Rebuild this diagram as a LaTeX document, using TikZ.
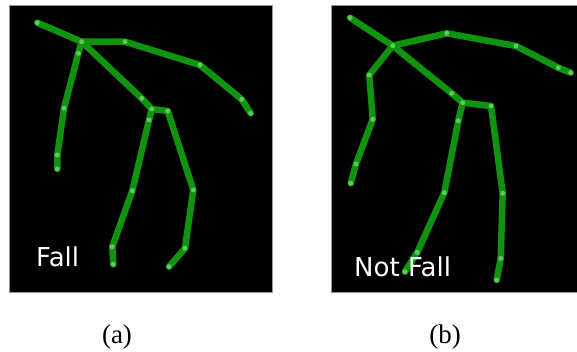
\documentclass[tikz,border=0pt]{standalone}
\usepackage{fontspec}
\newfontfamily\tagfont{DejaVu Sans}
\newfontfamily\capfont{Liberation Serif}
\definecolor{bone}{RGB}{16,148,16}
\definecolor{jointc}{RGB}{110,215,110}
\definecolor{frameedge}{RGB}{150,150,150}
\tikzset{
  panel/.style={fill=black, draw=frameedge, line width=1pt},
  limb/.style={draw=bone, line width=6.5pt, line cap=round, line join=round},
  jointdot/.style={circle, fill=jointc, inner sep=0pt, minimum size=5pt, opacity=0.8},
  tag/.style={text=white, font=\tagfont\fontsize{26}{26}\selectfont, inner sep=0pt, anchor=base west},
  caption/.style={font=\capfont\fontsize{27}{27}\selectfont, inner sep=0pt}
}
\begin{document}
\begin{tikzpicture}[x=1pt,y=-1pt]
\useasboundingbox (0,0) rectangle (577,352);
\fill[white] (0,0) rectangle (577,352);

% two black frames
\draw[panel] (9.5,6) rectangle (272.5,292.5);
\draw[panel] (331.7,6) rectangle (578,292.5);

% ---------- skeleton (a) ----------
\coordinate (a-head) at (37.3,22.7);
\coordinate (a-neck) at (81.7,41.7);
\coordinate (a-rs) at (125,41.7);
\coordinate (a-re) at (200,65);
\coordinate (a-rw) at (241.7,99.3);
\coordinate (a-rh) at (250.7,113.3);
\coordinate (a-ls) at (78.3,53.3);
\coordinate (a-le) at (64,108.3);
\coordinate (a-lw) at (57.3,155);
\coordinate (a-lh) at (57.3,169);
\coordinate (a-sp) at (141.7,98.3);
\coordinate (a-hl) at (151.7,109);
\coordinate (a-hr) at (167.7,111);
\coordinate (a-lt) at (149,120);
\coordinate (a-lk) at (132.3,190.7);
\coordinate (a-la) at (112.3,246.7);
\coordinate (a-lf) at (113.3,264.3);
\coordinate (a-rk) at (193.3,190);
\coordinate (a-ra) at (185,248.3);
\coordinate (a-rf) at (169,266.7);

\draw[limb] (a-head) -- (a-neck) -- (a-rs) -- (a-re) -- (a-rw) -- (a-rh);
\draw[limb] (a-neck) -- (a-ls) -- (a-le) -- (a-lw) -- (a-lh);
\draw[limb] (a-neck) -- (a-sp) -- (a-hl) -- (a-hr);
\draw[limb] (a-hl) -- (a-lt) -- (a-lk) -- (a-la) -- (a-lf);
\draw[limb] (a-hr) -- (a-rk) -- (a-ra) -- (a-rf);
\foreach \j in {head,neck,rs,re,rw,rh,ls,le,lw,lh,sp,hl,hr,lt,lk,la,lf,rk,ra,rf}
  \node[jointdot] at (a-\j) {};

\node[tag] (tagA) at (36,266.7) {Fall};

% ---------- skeleton (b) ----------
\coordinate (b-head) at (350,17.7);
\coordinate (b-neck) at (392.7,45.7);
\coordinate (b-rs) at (446.7,33.3);
\coordinate (b-re) at (516,46);
\coordinate (b-rw) at (558.3,67.7);
\coordinate (b-rh) at (570.7,72.7);
\coordinate (b-ls) at (369.3,75);
\coordinate (b-le) at (372.7,119.3);
\coordinate (b-lw) at (356,164);
\coordinate (b-lh) at (350.7,183.3);
\coordinate (b-sp) at (451.7,93.3);
\coordinate (b-hl) at (462.7,102.7);
\coordinate (b-hr) at (491,106);
\coordinate (b-lt) at (458.3,120.7);
\coordinate (b-lk) at (444.3,192.7);
\coordinate (b-la) at (417.3,252.3);
\coordinate (b-lf) at (405,271.7);
\coordinate (b-rk) at (502.7,193.3);
\coordinate (b-ra) at (500.7,258.3);
\coordinate (b-rf) at (496.7,280);

\draw[limb] (b-head) -- (b-neck) -- (b-rs) -- (b-re) -- (b-rw) -- (b-rh);
\draw[limb] (b-neck) -- (b-ls) -- (b-le) -- (b-lw) -- (b-lh);
\draw[limb] (b-neck) -- (b-sp) -- (b-hl) -- (b-hr);
\draw[limb] (b-hl) -- (b-lt) -- (b-lk) -- (b-la) -- (b-lf);
\draw[limb] (b-hr) -- (b-rk) -- (b-ra) -- (b-rf);
\foreach \j in {head,neck,rs,re,rw,rh,ls,le,lw,lh,sp,hl,hr,lt,lk,la,lf,rk,ra,rf}
  \node[jointdot] at (b-\j) {};

\node[tag] (tagB) at (354,276.7) {Not Fall};

% captions
\node[caption] (capA) at (117,337.5) {(a)};
\node[caption] (capB) at (445,337.5) {(b)};
\end{tikzpicture}
\end{document}
